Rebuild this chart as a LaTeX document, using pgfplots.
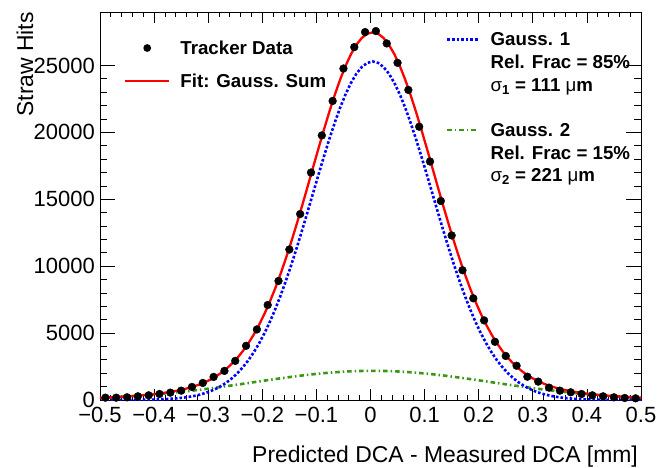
\documentclass[border=0pt]{standalone}
\usepackage{fontspec}
\setmainfont{Liberation Sans}
\usepackage{pgfplots}
\pgfplotsset{compat=1.18}
\usepackage{pgfplotstable}

\definecolor{rootgreen}{RGB}{60,150,20}
\definecolor{rootblue}{RGB}{0,0,255}
\definecolor{rootred}{RGB}{255,0,0}

% measured points (bin centres)
\pgfplotstableread{
x y
-0.49 175
-0.47 175
-0.45 200
-0.43 275
-0.41 350
-0.39 450
-0.37 550
-0.35 700
-0.33 975
-0.31 1275
-0.29 1725
-0.27 2175
-0.25 2925
-0.23 4050
-0.21 5275
-0.19 7100
-0.17 8900
-0.15 11250
-0.13 13900
-0.11 17000
-0.09 19775
-0.07 22350
-0.05 24775
-0.03 26375
-0.01 27500
0.01 27575
0.03 26650
0.05 25200
0.07 23175
0.09 20425
0.11 17825
0.13 14875
0.15 12300
0.17 9700
0.19 7600
0.21 5950
0.23 4350
0.25 3290
0.27 2560
0.29 1740
0.31 1375
0.33 925
0.35 700
0.37 575
0.39 450
0.41 350
0.43 275
0.45 200
0.47 150
0.49 125
}\hitsdata

% fit curves: g1 (narrow), g2 (wide), s = sum
\pgfplotstableread{
x g1 g2 s
-0.506 1 152 153
-0.496 1 169 170
-0.486 1 187 188
-0.476 2 206 208
-0.466 3 227 230
-0.456 5 250 255
-0.446 7 274 281
-0.436 10 300 310
-0.426 14 328 342
-0.416 20 358 378
-0.406 28 390 418
-0.396 38 424 462
-0.386 53 459 512
-0.376 72 497 569
-0.366 98 537 635
-0.356 131 578 709
-0.346 175 622 797
-0.336 232 668 900
-0.326 305 715 1020
-0.316 397 764 1161
-0.306 512 815 1327
-0.296 656 868 1524
-0.286 834 922 1756
-0.276 1050 977 2027
-0.266 1313 1034 2347
-0.256 1629 1091 2720
-0.246 2003 1150 3153
-0.236 2444 1209 3653
-0.226 2956 1268 4224
-0.216 3549 1328 4877
-0.206 4226 1388 5614
-0.196 4991 1448 6439
-0.186 5847 1507 7354
-0.176 6793 1565 8358
-0.166 7830 1622 9452
-0.156 8952 1677 10629
-0.146 10153 1732 11885
-0.136 11420 1784 13204
-0.126 12743 1834 14577
-0.116 14103 1881 15984
-0.106 15484 1926 17410
-0.096 16860 1968 18828
-0.086 18212 2007 20219
-0.076 19513 2042 21555
-0.066 20738 2073 22811
-0.056 21861 2101 23962
-0.046 22859 2125 24984
-0.036 23709 2145 25854
-0.026 24393 2160 26553
-0.016 24893 2171 27064
-0.006 25198 2178 27376
0.004 25300 2180 27480
0.014 25198 2178 27376
0.024 24893 2171 27064
0.034 24393 2160 26553
0.044 23709 2145 25854
0.054 22859 2125 24984
0.064 21861 2101 23962
0.074 20738 2073 22811
0.084 19513 2042 21555
0.094 18212 2007 20219
0.104 16860 1968 18828
0.114 15484 1926 17410
0.124 14103 1881 15984
0.134 12743 1834 14577
0.144 11420 1784 13204
0.154 10153 1732 11885
0.164 8952 1677 10629
0.174 7830 1622 9452
0.184 6793 1565 8358
0.194 5847 1507 7354
0.204 4991 1448 6439
0.214 4226 1388 5614
0.224 3549 1328 4877
0.234 2956 1268 4224
0.244 2444 1209 3653
0.254 2003 1150 3153
0.264 1629 1091 2720
0.274 1313 1034 2347
0.284 1050 977 2027
0.294 834 922 1756
0.304 656 868 1524
0.314 512 815 1327
0.324 397 764 1161
0.334 305 715 1020
0.344 232 668 900
0.354 175 622 797
0.364 131 578 709
0.374 98 537 635
0.384 72 497 569
0.394 53 459 512
0.404 38 424 462
0.414 28 390 418
0.424 20 358 378
0.434 14 328 342
0.444 10 300 310
0.454 7 274 281
0.464 5 250 255
0.474 3 227 230
0.484 2 206 208
0.494 1 187 188
0.504 1 169 170
}\fitcurves

\begin{document}
\begin{tikzpicture}
\begin{axis}[
  width=541bp, height=388bp, scale only axis,
  xmin=-0.5, xmax=0.5, ymin=0, ymax=29000,
  scaled x ticks=false, scaled y ticks=false,
  xtick={-0.5,-0.4,-0.3,-0.2,-0.1,0,0.1,0.2,0.3,0.4,0.5},
  xticklabels={−0.5,−0.4,−0.3,−0.2,−0.1,0,0.1,0.2,0.3,0.4,0.5},
  ytick={0,5000,10000,15000,20000,25000},
  yticklabels={0,5000,10000,15000,20000,25000},
  minor x tick num=4, minor y tick num=4,
  tick align=inside,
  axis line style={line width=0.9bp},
  tick style={black, line width=0.8bp},
  xtick style={/pgfplots/major tick length=11bp, /pgfplots/minor tick length=5.5bp},
  ytick style={/pgfplots/major tick length=15bp, /pgfplots/minor tick length=7.5bp},
  ticklabel style={font=\fontsize{22bp}{26bp}\selectfont, inner sep=0pt},
  xticklabel style={yshift=-6.5bp},
  yticklabel style={xshift=-5bp},
  xlabel={Predicted DCA - Measured DCA [mm]},
  ylabel={Straw Hits},
  label style={font=\fontsize{22.9bp}{27bp}\selectfont, inner sep=0pt},
  xlabel style={at={(axis description cs:0.9945,-0.1616)}, anchor=base east},
  ylabel style={at={(axis description cs:-0.1238,1)}, anchor=base east},
  legend cell align=left,
  legend style={draw=none, fill=none, inner sep=0pt, outer sep=0pt,
    at={(0.0444,0.9278)}, anchor=north west,
    row sep=15bp, column sep=10bp,
    font=\fontsize{18.7bp}{22bp}\selectfont\bfseries,
    nodes={inner sep=0pt, text height=14bp, text depth=4bp}},
]
\addlegendimage{draw=none, mark=none, legend image code/.code={\path[draw=none] (0bp,0bp) -- (44bp,0bp); \fill[black, draw=none] (22bp,1bp) circle[radius=3.9bp];}}
\addlegendentry{Tracker Data}
\addlegendimage{mark=none, legend image code/.code={\draw[rootred, line width=2.4bp] (0bp,1bp) -- (44bp,1bp);}}
\addlegendentry{Fit: Gauss. Sum}

\addplot[forget plot, rootgreen, line width=2.6bp, dash pattern=on 4.5bp off 3bp on 1.5bp off 3bp] table[x=x, y=g2] {\fitcurves};
\addplot[forget plot, rootblue, line width=2.6bp, dash pattern=on 2.6bp off 2bp] table[x=x, y=g1] {\fitcurves};
\addplot[forget plot, rootred, line width=2.3bp] table[x=x, y=s] {\fitcurves};
\addplot[forget plot, only marks, mark=*, mark size=3.9bp, mark options={draw=black, fill=black}] table[x=x, y=y] {\hitsdata};
\end{axis}

\begin{axis}[
  width=541bp, height=388bp, scale only axis, hide axis,
  xmin=0, xmax=1, ymin=0, ymax=1,
  legend cell align=left,
  legend style={draw=none, fill=none, inner sep=0pt, outer sep=0pt,
    at={(0.6396,0.9492)}, anchor=north west,
    row sep=4.67bp, column sep=11bp,
    font=\fontsize{18.7bp}{22bp}\selectfont\bfseries,
    nodes={inner sep=0pt, text height=14bp, text depth=4bp}},
]
\addlegendimage{legend image code/.code={\draw[rootblue, line width=2.6bp, dash pattern=on 2.6bp off 2bp] (0bp,1.4bp) -- (31bp,1.4bp);}}
\addlegendentry{Gauss. 1}
\addlegendimage{empty legend}
\addlegendentry{Rel. Frac = 85\%}
\addlegendimage{empty legend}
\addlegendentry{\textmd{σ}\textsubscript{1} = 111 \textmd{μ}m}
\addlegendimage{empty legend}
\addlegendentry{\phantom{X}}
\addlegendimage{legend image code/.code={\draw[rootgreen, line width=2.6bp, dash pattern=on 4.5bp off 3bp on 1.5bp off 3bp] (0bp,1.4bp) -- (31bp,1.4bp);}}
\addlegendentry{Gauss. 2}
\addlegendimage{empty legend}
\addlegendentry{Rel. Frac = 15\%}
\addlegendimage{empty legend}
\addlegendentry{\textmd{σ}\textsubscript{2} = 221 \textmd{μ}m}
\end{axis}

\path ([xshift=-100bp,yshift=-68bp]current axis.south west) rectangle ([xshift=16bp,yshift=12bp]current axis.north east);
\end{tikzpicture}
\end{document}
